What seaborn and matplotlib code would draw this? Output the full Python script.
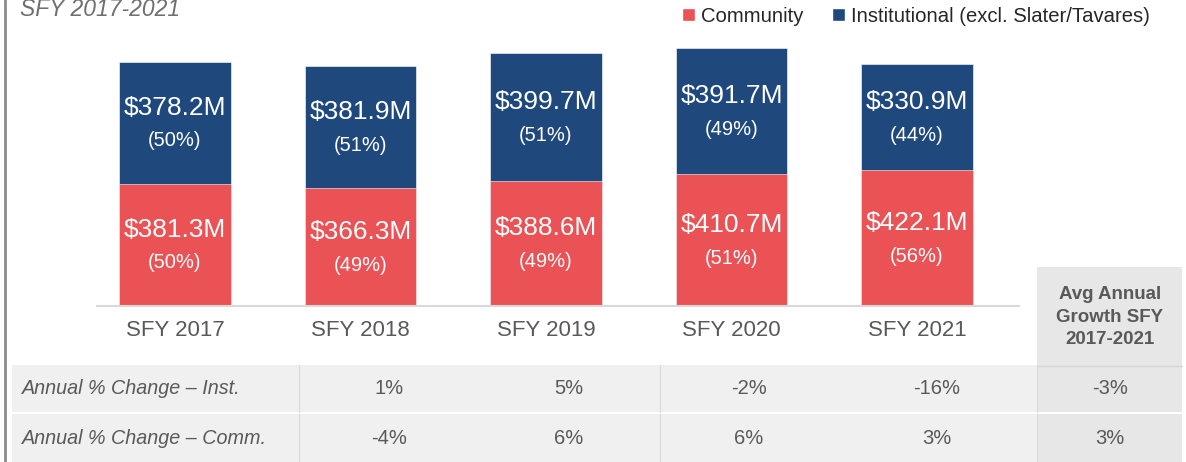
import pandas as pd
import seaborn as sns
import matplotlib.pyplot as plt
from matplotlib.patches import Rectangle, Patch
from matplotlib.lines import Line2D

# ==========================================
# DATA
# ==========================================

years = ["SFY 2017", "SFY 2018", "SFY 2019", "SFY 2020", "SFY 2021"]
community = [381.3, 366.3, 388.6, 410.7, 422.1]
institutional = [378.2, 381.9, 399.7, 391.7, 330.9]

row_labels = ["Annual % Change \u2013 Inst.", "Annual % Change \u2013 Comm."]
inst_change = ["1%", "5%", "-2%", "-16%"]
comm_change = ["-4%", "6%", "6%", "3%"]
avg_growth = ["-3%", "3%"]
avg_header = "Avg Annual\nGrowth SFY\n2017-2021"

df = pd.DataFrame({
    "Year": years,
    "Community": community,
    "Institutional": institutional,
})
df["Total"] = df["Community"] + df["Institutional"]

# ==========================================
# STYLE
# ==========================================

sns.set_style("white")
plt.rcParams["font.family"] = ["Liberation Sans", "DejaVu Sans"]

BLUE = "#1F497D"
RED = "#EB5255"
GREY_TXT = "#595959"

W, H = 1186, 462


def fx(px):
    return px / W


def fy(py):
    return 1 - py / H


fig = plt.figure(figsize=(W / 100, H / 100), dpi=100)
ax = fig.add_axes([fx(97), fy(306), fx(1019) - fx(97), fy(0) - fy(306)])

# ==========================================
# STACKED BARS
# ==========================================

sns.barplot(
    data=df, x="Year", y="Total",
    color=BLUE, width=0.6, saturation=1,
    edgecolor="white", linewidth=0.4, ax=ax
)
sns.barplot(
    data=df, x="Year", y="Community",
    color=RED, width=0.6, saturation=1,
    edgecolor="white", linewidth=0.4, ax=ax
)

ax.set_xlim(-0.42, 4.55)
ax.set_ylim(0, 953)
ax.set_xlabel("")
ax.set_ylabel("")
ax.set_yticks([])
ax.tick_params(axis="x", length=0, pad=10, labelsize=16, labelcolor=GREY_TXT)
for side in ["left", "right", "top"]:
    ax.spines[side].set_visible(False)
ax.spines["bottom"].set_color("#d9d9d9")
ax.spines["bottom"].set_linewidth(1.5)

for i, row in df.iterrows():
    total = row["Total"]
    segs = [
        (0, row["Community"]),
        (row["Community"], row["Institutional"]),
    ]
    for base, val in segs:
        mid = base + val / 2
        ax.annotate(
            f"${val:.1f}M", (i, mid), xytext=(0, 11), textcoords="offset points",
            ha="center", va="center", color="white", fontsize=19
        )
        ax.annotate(
            f"({val / total * 100:.0f}%)", (i, mid), xytext=(0, -13),
            textcoords="offset points",
            ha="center", va="center", color="white", fontsize=14.5
        )

# ==========================================
# TITLE & LEGEND
# ==========================================

fig.text(fx(20), fy(16), "SFY 2017-2021", style="italic", fontsize=16.5,
         color="#6f6f6f", ha="left", va="baseline")

handles = [
    Patch(facecolor=RED, label="Community"),
    Patch(facecolor=BLUE, label="Institutional (excl. Slater/Tavares)"),
]
fig.legend(
    handles=handles, loc="center right", bbox_to_anchor=(fx(1168), fy(16)),
    ncol=2, frameon=False, fontsize=14.6, handlelength=0.65, handleheight=0.65,
    handletextpad=0.3, columnspacing=1.4, labelcolor="#262626"
)

# left border line
fig.add_artist(Line2D([fx(5), fx(5)], [0, 1], color="#8c8c8c", linewidth=2))

# ==========================================
# TABLE
# ==========================================

col_centers = [389, 569, 749, 937]
avg_x0, avg_x1 = 1037, 1182
rows = [(365, 412), (414, 462)]

for y0, y1 in rows:
    fig.add_artist(Rectangle((fx(12), fy(y1)), fx(avg_x0) - fx(12), fy(y0) - fy(y1),
                             facecolor="#f0f0f0", edgecolor="none"))
    fig.add_artist(Rectangle((fx(avg_x0), fy(y1)), fx(avg_x1) - fx(avg_x0),
                             fy(y0) - fy(y1), facecolor="#e7e7e7", edgecolor="none"))

# header cell for average column
fig.add_artist(Rectangle((fx(avg_x0), fy(365)), fx(avg_x1) - fx(avg_x0),
                         fy(267) - fy(365), facecolor="#e7e7e7", edgecolor="none"))
fig.add_artist(Line2D([fx(avg_x0), fx(avg_x1)], [fy(365.5), fy(365.5)],
                      color="#d6d6d6", linewidth=1))

for sep in [299, 660, 1037]:
    for y0, y1 in rows:
        fig.add_artist(Line2D([fx(sep), fx(sep)], [fy(y0), fy(y1)],
                              color="#dadada", linewidth=0.8))

fig.text(fx(1110), fy(317), avg_header, ha="center", va="center",
         fontsize=13.5, fontweight="bold", color=GREY_TXT, linespacing=1.45)

table_vals = [inst_change, comm_change]
for r, (y0, y1) in enumerate(rows):
    yc = fy((y0 + y1) / 2)
    fig.text(fx(22), yc, row_labels[r], ha="left", va="center",
             style="italic", fontsize=14.2, color=GREY_TXT)
    for c, val in enumerate(table_vals[r]):
        fig.text(fx(col_centers[c]), yc, val, ha="center", va="center",
                 fontsize=14.5, color=GREY_TXT)
    fig.text(fx(1110), yc, avg_growth[r], ha="center", va="center",
             fontsize=14.5, color=GREY_TXT)

plt.savefig("out.png", dpi=100)
